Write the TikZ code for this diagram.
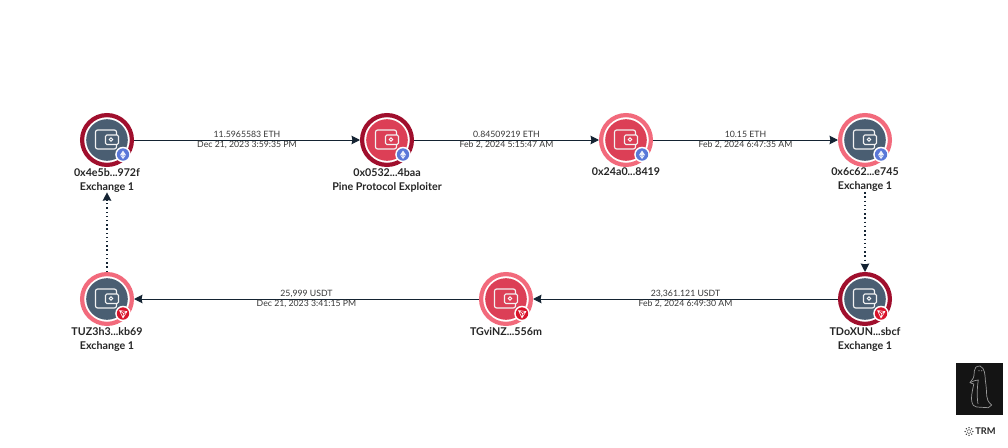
\documentclass[tikz,border=0pt]{standalone}
\usepackage{fontspec}
\setmainfont{Lato}
\usepackage{xcolor}
\definecolor{Ringdark}{RGB}{160,15,45}
\definecolor{Ringlight}{RGB}{242,106,124}
\definecolor{Slatebody}{RGB}{74,94,114}
\definecolor{Redbody}{RGB}{220,63,86}
\definecolor{Ethblue}{RGB}{90,120,216}
\definecolor{Tronred}{RGB}{217,20,43}
\definecolor{Edgeink}{RGB}{20,35,50}
\usetikzlibrary{positioning, arrows.meta}

% #1 name, #2 position, #3 ring, #4 body, #5 badge colour, #6 badge glyph, #7 label
\newcommand{\walletnode}[7]{
  \node[wring, draw=#3] (#1) at (#2) {};
  \node[wbody, fill=#4] (#1B) at (#1) {};
  \begin{scope}[shift={(#1)}]
    \draw[wline, rounded corners=1.5pt] (9.5,-5) |- (-11.5,-10) |- (9.5,9) -- (9.5,4.5);
    \draw[wline, rounded corners=1pt, fill=#4] (-1.5,-5) rectangle (11.5,4.5);
    \draw[white, line width=0.6pt] (4,-0.5) circle[radius=1.7];
    \fill[white] (16,14.5) circle[radius=7.8];
    \fill[#5] (16,14.5) circle[radius=6.2];
    #6
  \end{scope}
  \node[wlabel, below=0.02cm of #1] (#1L) {#7};
}
\newcommand{\ethglyph}{
  \fill[white, opacity=0.9] (16,10.5) -- (19,15) -- (16,19) -- (13,15) -- cycle;
  \draw[Ethblue, line width=0.25pt] (13,15) -- (16,16.2) -- (19,15);
}
\newcommand{\tronglyph}{
  \draw[white, line width=0.4pt, line join=round]
    (12.5,11.5) -- (20,12.5) -- (16,19) -- cycle (12.5,11.5) -- (16.5,14.5) -- (16,19) (16.5,14.5) -- (20,12.5);
}

\begin{document}
\begin{tikzpicture}[
  x=0.025cm, y=-0.025cm,
  wring/.style ={circle, line width=0.105cm, fill=white, minimum size=1.245cm, inner sep=0pt},
  wbody/.style ={circle, minimum size=1.04cm, inner sep=0pt},
  wline/.style ={white!90!gray, line width=0.8pt},
  wlabel/.style={align=center, inner sep=0pt, font=\fontsize{7.6}{10}\selectfont\bfseries, text=black!85},
  elabel/.style={midway, align=center, inner sep=0pt, font=\fontsize{6.2}{7.2}\selectfont, text=black!78},
  arr/.style   ={-{Stealth[length=6pt, width=6pt, inset=0.6pt]}, line width=0.7pt, color=Edgeink},
  darr/.style  ={arr, line width=1pt, dotted},
]
\useasboundingbox (0,0) rectangle (1008,448);
\fill[white] (0,0) rectangle (1008,448);

%% Top row
\walletnode{WA}{107,140}{Ringdark}{Slatebody}{Ethblue}{\ethglyph}{0x4e5b...972f\\Exchange 1}
\walletnode{WB}{387,140}{Ringdark}{Redbody}{Ethblue}{\ethglyph}{0x0532...4baa\\Pine Protocol Exploiter}
\walletnode{WC}{626,140}{Ringlight}{Redbody}{Ethblue}{\ethglyph}{0x24a0...8419}
\walletnode{WD}{865,140}{Ringlight}{Slatebody}{Ethblue}{\ethglyph}{0x6c62...e745\\Exchange 1}

%% Bottom row
\walletnode{WE}{865,299}{Ringdark}{Slatebody}{Tronred}{\tronglyph}{TDoXUN...sbcf\\Exchange 1}
\walletnode{WF}{506,299}{Ringlight}{Redbody}{Tronred}{\tronglyph}{TGviNZ...556m}
\walletnode{WG}{107,299}{Ringlight}{Slatebody}{Tronred}{\tronglyph}{TUZ3h3...kb69\\Exchange 1}

%% Transfers
\draw[arr] (WA) -- node[elabel] (TA) {11.5965583 ETH\\Dec 21, 2023 3:59:35 PM} (WB);
\draw[arr] (WB) -- node[elabel] (TB) {0.84509219 ETH\\Feb 2, 2024 5:15:47 AM} (WC);
\draw[arr] (WC) -- node[elabel] (TC) {10.15 ETH\\Feb 2, 2024 6:47:35 AM} (WD);
\draw[arr] (WE) -- node[elabel] (TD) {23,361.121 USDT\\Feb 2, 2024 6:49:30 AM} (WF);
\draw[arr] (WF) -- node[elabel] (TE) {25,999 USDT\\Dec 21, 2023 3:41:15 PM} (WG);

%% Same owner
\draw[darr] (WDL) -- (WE);
\draw[darr] (WG) -- (WAL);

%% Logo
\node[rectangle, fill=black!92, minimum width=47*0.025cm, minimum height=52*0.025cm, inner sep=0pt]
  (LOGO) at (979.5,389) {};
\draw[gray!80, line width=0.5pt, line join=round]
  (980,366) .. controls (976,366) and (974.5,368) .. (974.3,371)
  .. controls (974,375) and (974,377) .. (973.3,378)
  -- (970,382.7) -- (973.8,384)
  .. controls (972,392) and (971,398) .. (971.7,401)
  .. controls (972.5,405) and (974,407) .. (976.7,407)
  -- (988.3,407.7) -- (991.7,405)
  .. controls (988,402) and (987,399) .. (986.7,396)
  .. controls (986.5,390) and (986,384) .. (985.3,380)
  .. controls (985,375) and (985,368) .. (980,366);
\draw[gray!80, line width=0.5pt, line join=round]
  (970,382.7) .. controls (973,381) and (976,380) .. (978.3,380)
  .. controls (977.5,385) and (976.5,395) .. (978,404);
\fill[gray!80] (979,370.7) circle[radius=0.6] (981.7,370.7) circle[radius=0.6];
\node[inner sep=0pt, font=\fontsize{6.6}{7}\selectfont\bfseries, text=black!85] (TRM) at (985.5,431.5) {TRM};
\foreach \a in {0,45,...,315}{
  \fill[black!80] (969,431.5) ++(\a:3.8) circle[radius=0.75];
  \fill[black!80] (969,431.5) ++(\a+22:1.8) circle[radius=0.5];
}
\end{tikzpicture}
\end{document}
